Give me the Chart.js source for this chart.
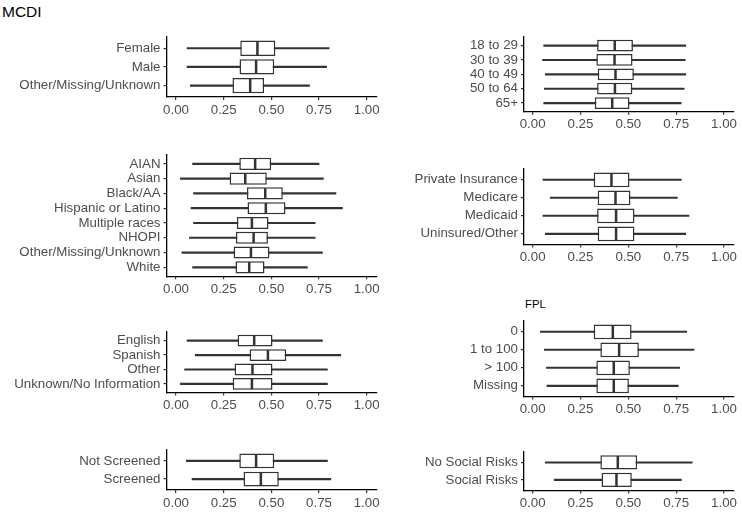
<!DOCTYPE html>
<html><head><meta charset="utf-8">
<script src="https://cdn.jsdelivr.net/npm/chart.js@4.4.1/dist/chart.umd.min.js"></script>
<style>
html,body{margin:0;padding:0;background:#fff;}
#wrap{position:relative;width:742px;height:512px;overflow:hidden;font-family:"Liberation Sans",Arial,sans-serif;}
canvas{position:absolute;}
.t{position:absolute;white-space:nowrap;color:#000;line-height:1;}
</style></head><body>
<div id="wrap">
<div class="t" style="left:2px;top:3.5px;font-size:15.5px;">MCDI</div>
<div class="t" style="left:525px;top:299px;font-size:11.3px;">FPL</div>
</div>
<script>
// x-axis tick values
const xTicks = [0, 0.25, 0.5, 0.75, 1];

// each row: [lower whisker, Q1, median, Q3, upper whisker]
const sexCats = ['Female', 'Male', 'Other/Missing/Unknown'];
const sexStats = [
  [0.058, 0.337, 0.427, 0.521, 0.803],
  [0.058, 0.333, 0.420, 0.515, 0.790],
  [0.075, 0.296, 0.389, 0.462, 0.700]
];

const ageCats = ['18 to 29', '30 to 39', '40 to 49', '50 to 64', '65+'];
const ageStats = [
  [0.058, 0.337, 0.429, 0.524, 0.800],
  [0.052, 0.333, 0.428, 0.522, 0.797],
  [0.066, 0.340, 0.433, 0.529, 0.800],
  [0.061, 0.337, 0.430, 0.521, 0.792],
  [0.058, 0.325, 0.416, 0.506, 0.776]
];

const raceCats = ['AIAN', 'Asian', 'Black/AA', 'Hispanic or Latino', 'Multiple races', 'NHOPI', 'Other/Missing/Unknown', 'White'];
const raceStats = [
  [0.087, 0.332, 0.415, 0.499, 0.750],
  [0.023, 0.281, 0.363, 0.476, 0.773],
  [0.092, 0.372, 0.468, 0.560, 0.839],
  [0.079, 0.375, 0.471, 0.574, 0.873],
  [0.092, 0.319, 0.398, 0.485, 0.730],
  [0.070, 0.314, 0.407, 0.482, 0.730],
  [0.031, 0.302, 0.393, 0.490, 0.768],
  [0.087, 0.312, 0.384, 0.464, 0.689]
];

const insCats = ['Private Insurance', 'Medicare', 'Medicaid', 'Uninsured/Other'];
const insStats = [
  [0.054, 0.319, 0.412, 0.506, 0.777],
  [0.092, 0.340, 0.433, 0.511, 0.756],
  [0.054, 0.337, 0.436, 0.532, 0.817],
  [0.066, 0.340, 0.436, 0.532, 0.800]
];

const langCats = ['English', 'Spanish', 'Other', 'Unknown/No Information'];
const langStats = [
  [0.058, 0.323, 0.410, 0.506, 0.768],
  [0.101, 0.386, 0.482, 0.578, 0.864],
  [0.045, 0.307, 0.401, 0.506, 0.794],
  [0.023, 0.297, 0.398, 0.506, 0.794]
];

const fplCats = ['0', '1 to 100', '> 100', 'Missing'];
const fplStats = [
  [0.040, 0.319, 0.419, 0.517, 0.805],
  [0.061, 0.354, 0.452, 0.555, 0.843],
  [0.072, 0.333, 0.424, 0.508, 0.768],
  [0.075, 0.333, 0.424, 0.503, 0.761]
];

const scrCats = ['Not Screened', 'Screened'];
const scrStats = [
  [0.054, 0.332, 0.420, 0.515, 0.794],
  [0.084, 0.354, 0.445, 0.539, 0.812]
];

const socCats = ['No Social Risks', 'Social Risks'];
const socStats = [
  [0.066, 0.354, 0.445, 0.546, 0.834],
  [0.113, 0.360, 0.438, 0.518, 0.777]
];

const FONT = '"Liberation Sans", Arial, sans-serif';
Chart.defaults.font.family = FONT;

function panel(cats, stats, g) {
  const c = document.createElement('canvas');
  const top = Math.floor(g.y0 - 10);
  const w = Math.ceil(g.x1 + 12) - g.left;
  const h = Math.ceil(g.y1 + 26) - top;
  c.width = w; c.height = h;
  c.style.left = g.left + 'px'; c.style.top = top + 'px';
  c.style.width = w + 'px'; c.style.height = h + 'px';
  document.getElementById('wrap').appendChild(c);
  const yAxisW = g.x0 - g.left;
  const xAxisH = top + h - g.y1;
  const boxFrac = 0.82;
  const rowPx = ch => Math.abs(ch.scales.y.getPixelForValue(1) - ch.scales.y.getPixelForValue(0));
  new Chart(c, {
    type: 'bar',
    data: {
      datasets: [
        {
          type: 'scatter', order: 0,
          data: stats.map((s, i) => ({x: s[2], y: i})),
          pointStyle: 'line', rotation: 90,
          radius: ctx => rowPx(ctx.chart) * boxFrac / 2 - 0.8,
          borderColor: '#333', backgroundColor: '#333', borderWidth: 2.5
        },
        {
          order: 1,
          data: stats.map((s, i) => ({x: [s[1], s[3]], y: i})),
          backgroundColor: '#fff', borderColor: '#333', borderWidth: 1.5,
          borderSkipped: false, barPercentage: boxFrac, categoryPercentage: 1, grouped: false
        },
        {
          order: 2,
          data: stats.map((s, i) => ({x: [s[0], s[4]], y: i})),
          backgroundColor: '#333', borderWidth: 0, barThickness: 1.5, grouped: false
        }
      ]
    },
    options: {
      indexAxis: 'y', responsive: false, animation: false, events: [],
      layout: {padding: {top: g.y0 - top, right: g.left + w - g.x1, bottom: 0, left: 0}},
      plugins: {legend: {display: false}, tooltip: {enabled: false}},
      scales: {
        x: {
          type: 'linear', min: g.min, max: g.max, offset: false,
          afterBuildTicks: s => { s.ticks = xTicks.map(v => ({value: v})); },
          afterFit: s => { s.height = xAxisH; },
          border: {display: true, color: '#000', width: 1.3},
          grid: {drawOnChartArea: false, drawTicks: true, tickLength: 3, color: '#333', lineWidth: 1.2, offset: false},
          ticks: {padding: 2, color: '#4d4d4d', font: {size: 13.3}, maxRotation: 0, autoSkip: false,
                  callback: v => Number(v).toFixed(2)}
        },
        y: {
          type: 'linear', reverse: true, min: -0.6, max: cats.length - 0.4, offset: false,
          afterBuildTicks: s => { s.ticks = cats.map((_, i) => ({value: i})); },
          afterFit: s => { s.width = yAxisW; },
          border: {display: true, color: '#000', width: 1.3},
          grid: {drawOnChartArea: false, drawTicks: true, tickLength: 3, color: '#333', lineWidth: 1.2, offset: false},
          ticks: {padding: 3, color: '#4d4d4d', font: {size: 13.3}, autoSkip: false,
                  callback: v => cats[v]}
        }
      }
    }
  });
}

const L = {left: 0, x0: 166.5, x1: 376.2, min: -0.05, max: 1.05};
const R = {left: 380, x0: 524, x1: 733.6, min: -0.045, max: 1.05};

panel(sexCats, sexStats, Object.assign({}, L, {y0: 36.7, y1: 96.9}));
panel(ageCats, ageStats, Object.assign({}, R, {y0: 36.5, y1: 111.7}));
panel(raceCats, raceStats, Object.assign({}, L, {y0: 154.4, y1: 276.2}));
panel(insCats, insStats, Object.assign({}, R, {y0: 168.4, y1: 244.6}));
panel(langCats, langStats, Object.assign({}, L, {y0: 331.8, y1: 392.6}));
panel(fplCats, fplStats, Object.assign({}, R, {y0: 320.4, y1: 396.6}));
panel(scrCats, scrStats, Object.assign({}, L, {y0: 449.4, y1: 490.0}));
panel(socCats, socStats, Object.assign({}, R, {y0: 451.8, y1: 490.4}));
</script>
</body></html>
